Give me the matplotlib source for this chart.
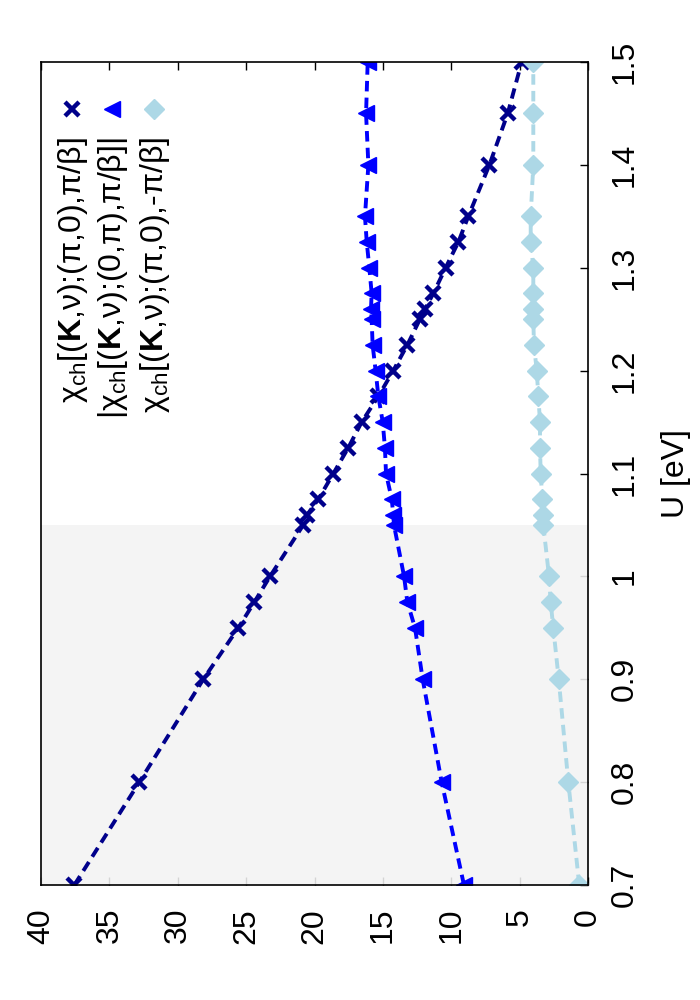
import matplotlib
matplotlib.use("Agg")
import matplotlib.pyplot as plt

plt.rcParams['font.family'] = ['Liberation Sans', 'DejaVu Sans']
plt.rcParams['mathtext.fontset'] = 'custom'
plt.rcParams['mathtext.rm'] = 'Liberation Sans'
plt.rcParams['mathtext.it'] = 'Liberation Sans:italic'
plt.rcParams['mathtext.bf'] = 'Liberation Sans:bold'

# ---------------- data ----------------
U = [0.7, 0.8, 0.9, 0.95, 0.975, 1.0, 1.05, 1.06, 1.075, 1.1, 1.125, 1.15,
     1.175, 1.2, 1.225, 1.25, 1.26, 1.275, 1.3, 1.325, 1.35, 1.4, 1.45, 1.5]
chi_pi0_pos = [37.56, 32.81, 28.13, 25.57, 24.40, 23.25, 20.82, 20.53, 19.72,
               18.62, 17.53, 16.55, 15.33, 14.24, 13.21, 12.29, 11.92, 11.31,
               10.41, 9.48, 8.75, 7.21, 5.87, 4.85]
chi_0pi_abs = [9.07, 10.70, 12.09, 12.65, 13.21, 13.45, 14.19, 14.24, 14.35,
               14.77, 14.85, 15.01, 15.33, 15.53, 15.75, 15.82, 15.87, 15.82,
               15.99, 16.18, 16.31, 16.06, 16.23, 16.11]
chi_pi0_neg = [0.64, 1.44, 2.14, 2.54, 2.73, 2.85, 3.27, 3.27, 3.34, 3.46,
               3.51, 3.51, 3.63, 3.75, 3.95, 4.00, 4.00, 4.00, 4.00, 4.19,
               4.19, 4.00, 4.00, 4.00]
labels = [r'χ$_{\mathrm{ch}}$[($\mathbf{K}$,ν);(π,0),π/β]',
          r'|χ$_{\mathrm{ch}}$[($\mathbf{K}$,ν);(0,π),π/β]|',
          r'χ$_{\mathrm{ch}}$[($\mathbf{K}$,ν);(π,0),-π/β]']
U_ticks = [0.7, 0.8, 0.9, 1.0, 1.1, 1.2, 1.3, 1.4, 1.5]
U_ticklabels = ['0.7', '0.8', '0.9', '1', '1.1', '1.2', '1.3', '1.4', '1.5']
chi_ticks = [40, 35, 30, 25, 20, 15, 10, 5, 0]
chi_ticklabels = ['40', '35', '30', '25', '20', '15', '10', '5', '0']
shade_U = (0.7, 1.05)

# ---------------- figure ----------------
fig = plt.figure(figsize=(7, 10), dpi=100)
ax = fig.add_axes([41/700, 1-885/1000, (588-41)/700, (885-62)/1000])

ax.set_xlim(40, 0)
ax.set_ylim(0.7, 1.5)

ax.axhspan(shade_U[0], shade_U[1], color='#f3f3f3', alpha=0.88, lw=0, zorder=2.6)

colors = ['#00008b', '#0000ff', '#add8e6']
markers = ['x', '<', 'D']
msizes = [10, 11.5, 10.5]
mews = [3.2, 1, 1]
series = [chi_pi0_pos, chi_0pi_abs, chi_pi0_neg]
for s, c, m, ms, mw in zip(series, colors, markers, msizes, mews):
    ax.plot(s, U, color=c, lw=2.8, dashes=(2.7, 1.6), marker=m, ms=ms,
            mew=mw, mec=c, mfc=c, zorder=4)

# ticks
ax.set_xticks(chi_ticks)
ax.set_xticklabels(chi_ticklabels, rotation=90)
ax.set_yticks(U_ticks)
ax.set_yticklabels(U_ticklabels, rotation=90, va='center')
ax.tick_params(axis='x', direction='in', length=6, width=1, top=True,
               bottom=True, labelsize=23, pad=16.5)
ax.tick_params(axis='y', direction='in', length=6, width=1, left=False,
               right=True, labelleft=False, labelright=True, labelsize=23,
               pad=15.5)
ax.xaxis.set_zorder(2.5)
ax.yaxis.set_zorder(2.5)
for sp in ax.spines.values():
    sp.set_zorder(5)
    sp.set_linewidth(1.2)

ax.set_ylabel('U [eV]', fontsize=23, rotation=90)
ax.yaxis.set_label_position('right')
ax.yaxis.set_label_coords((661-41)/547, 0.5)

# legend (rotated, drawn manually)
leg_x = [(71.7-41)/547, (111.7-41)/547, (154-41)/547]
leg_mark_y = (885-109)/823
leg_text_y = (885-137)/823
for lx, c, m, ms, mw, lab in zip(leg_x, colors, markers, msizes, mews, labels):
    ax.plot([lx], [leg_mark_y], transform=ax.transAxes, color=c, marker=m,
            ms=ms, mew=mw, mec=c, mfc=c, ls='none', zorder=6, clip_on=False)
    ax.text(lx + 0.002, leg_text_y, lab, transform=ax.transAxes, rotation=90,
            ha='center', va='top', fontsize=23, zorder=6)

fig.savefig('out.png', dpi=100)
